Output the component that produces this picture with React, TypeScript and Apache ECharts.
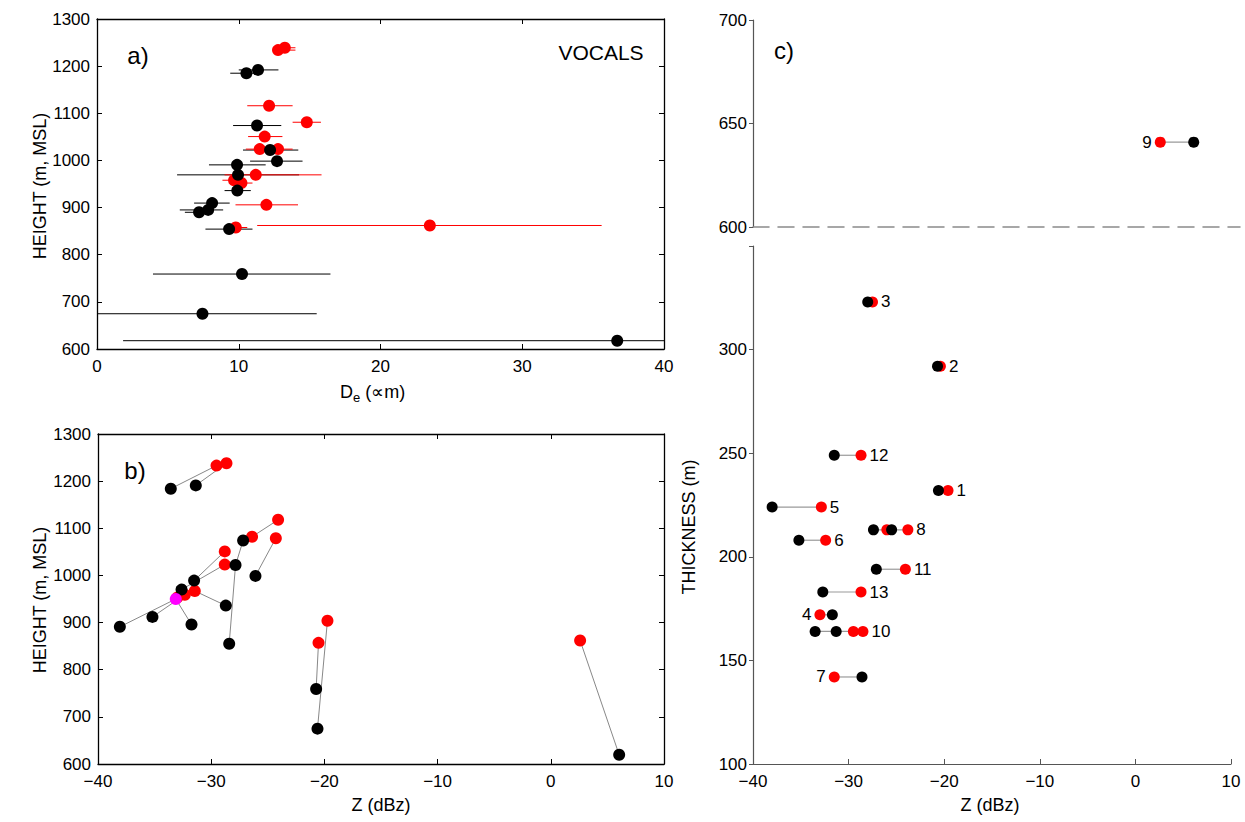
import React, { useEffect, useRef } from "react";
import * as echarts from "echarts";

// ---------- Panel a: D_e vs height ----------  [height, De, lo, hi]
const aBlack: number[][] = [
  [1185, 10.54, 9.4, 11.3],
  [1192, 11.36, 10.0, 12.8],
  [1074, 11.29, 9.6, 13.0],
  [1022, 12.21, 10.3, 14.2],
  [998.5, 12.7, 10.8, 14.5],
  [990.6, 9.88, 7.9, 11.9],
  [969.4, 9.95, 5.65, 14.26],
  [936, 9.9, 9.0, 10.85],
  [909.5, 8.12, 6.85, 9.36],
  [895, 7.84, 5.84, 8.9],
  [890, 7.2, 6.2, 8.2],
  [854.3, 9.32, 7.65, 10.97],
  [759, 10.23, 3.95, 16.47],
  [674.8, 7.44, 0, 15.5],
  [617.6, 36.7, 1.84, 40],
];
const aRed: number[][] = [
  [1234, 12.77, 12.4, 14.0],
  [1239, 13.25, 12.6, 14.0],
  [1116, 12.14, 10.6, 13.8],
  [1081, 14.8, 13.8, 15.8],
  [1050.6, 11.83, 10.66, 13.08],
  [1024, 11.48, 10.5, 12.5],
  [1024, 12.77, 11.8, 13.8],
  [969.4, 11.2, 9.0, 15.84],
  [958, 9.67, 8.85, 10.5],
  [952, 10.19, 9.3, 10.97],
  [905.8, 11.95, 9.77, 14.18],
  [857.7, 9.79, 9.4, 10.6],
  [862, 23.48, 11.3, 35.6],
];

// ---------- Panel b: Z vs height ----------  [Z, height]
const bBlack: number[][] = [
  [-33.57, 1184],
  [-31.36, 1191],
  [-27.18, 1074],
  [-27.85, 1022],
  [-26.09, 999],
  [-31.51, 989],
  [-32.62, 970],
  [-28.71, 936],
  [-35.19, 912],
  [-38.07, 891],
  [-31.74, 896],
  [-28.41, 855],
  [-20.73, 759],
  [-20.61, 675],
  [6.04, 619.5],
];
const bRed: number[][] = [
  [-29.53, 1233],
  [-28.65, 1238],
  [-24.09, 1118],
  [-26.39, 1082],
  [-24.29, 1079],
  [-28.8, 1051],
  [-28.8, 1023],
  [-31.45, 967],
  [-32.33, 959],
  [-33.0, 953],
  [-19.73, 904],
  [-20.52, 857],
  [2.59, 862],
];
const bMagenta: number[][] = [[-33.13, 950]];
const bLinks: string[][] = [
  ["b0", "r0"], ["b1", "r1"], ["r2", "r3"], ["b2", "b3"], ["b3", "b11"],
  ["r4", "b4"], ["r5", "b5"], ["r6", "b6"], ["r7", "b7"], ["b9", "m0"],
  ["b8", "r8"], ["b10", "m0"], ["b12", "r11"], ["b13", "r10"], ["b14", "r12"],
];

// ---------- Panel c: Z vs thickness per cloud ----------
const cIds = [1, 2, 3, 4, 5, 6, 7, 8, 9, 10, 11, 12, 13];
const cThick = [232, 292, 323, 172, 224, 208, 142, 213, 641, 164, 194, 249, 183];
const cBlackZ: number[][] = [
  [-20.6], [-20.7], [-28.0], [-31.7], [-38.0], [-35.2], [-28.6],
  [-27.4, -25.5], [6.1], [-33.5, -31.3], [-27.1], [-31.5], [-32.7],
];
const cRedZ: number[][] = [
  [-19.6], [-20.4], [-27.5], [-33.0], [-32.85], [-32.4], [-31.5],
  [-26.0, -23.8], [2.6], [-29.5, -28.5], [-24.06], [-28.7], [-28.7],
];

// tick ranges
const aX = { min: 0, max: 40, interval: 10 };
const heightY = { min: 600, max: 1300, interval: 100 };
const zX = { min: -40, max: 10, interval: 10 };
const cUpperY = { min: 600, max: 700, interval: 50 };
const cLowerY = { min: 100, max: 350, interval: 50 };

const FONT = "Liberation Sans, Arial, Helvetica, sans-serif";
const RED = "#ff0000";
const BLACK = "#000000";

const numFmt = (v: number) => (v < 0 ? "\u2212" + Math.abs(v) : String(v));

function segRender(color: string, width: number) {
  return (params: any, api: any) => {
    const p1 = api.coord([api.value(0), api.value(1)]);
    const p2 = api.coord([api.value(2), api.value(3)]);
    return {
      type: "line",
      shape: { x1: p1[0], y1: p1[1], x2: p2[0], y2: p2[1] },
      style: { stroke: color, lineWidth: width },
    };
  };
}

export default function App() {
  const ref = useRef<HTMLDivElement>(null);
  useEffect(() => {
    document.body.style.margin = "0";
    if (!ref.current) return;
    const chart = echarts.init(ref.current, null, { renderer: "svg" });

    const boxAxisLine = { show: true, onZero: false, lineStyle: { color: BLACK, width: 1.3 } };
    const tickIn = { show: true, inside: true, length: 5, lineStyle: { color: BLACK, width: 1 } };
    const lbl = { color: BLACK, fontSize: 17, fontFamily: FONT, formatter: numFmt };

    const framedAxes = (grid: number, x: any, y: any) => {
      const xs = [
        { gridIndex: grid, type: "value", position: "bottom", ...x, axisLine: boxAxisLine, axisTick: tickIn, axisLabel: { ...lbl, margin: 9 }, splitLine: { show: false } },
        { gridIndex: grid, type: "value", position: "top", ...x, axisLine: boxAxisLine, axisTick: tickIn, axisLabel: { show: false }, splitLine: { show: false } },
      ];
      const ys = [
        { gridIndex: grid, type: "value", position: "left", ...y, axisLine: boxAxisLine, axisTick: tickIn, axisLabel: { ...lbl, margin: 7 }, splitLine: { show: false } },
        { gridIndex: grid, type: "value", position: "right", ...y, axisLine: boxAxisLine, axisTick: tickIn, axisLabel: { show: false }, splitLine: { show: false } },
      ];
      return { xs, ys };
    };

    const A = framedAxes(0, aX, heightY);
    const B = framedAxes(1, zX, heightY);

    const grayAxis = { show: true, onZero: false, lineStyle: { color: "#555", width: 1.2 } };
    const cUpperXMax = zX.max + 9 / 9.56;
    const xAxes = [
      ...A.xs,
      ...B.xs,
      { gridIndex: 2, type: "value", min: zX.min, max: cUpperXMax, position: "bottom",
        axisLine: { show: true, onZero: false, lineStyle: { color: "#8a8a8a", width: 1.5, type: [16, 9] } },
        axisTick: { show: false }, axisLabel: { show: false }, splitLine: { show: false } },
      { gridIndex: 3, type: "value", ...zX, position: "bottom", axisLine: grayAxis,
        axisTick: { show: true, inside: true, length: 5, lineStyle: { color: "#555" } },
        axisLabel: { ...lbl, margin: 9 }, splitLine: { show: false } },
    ];
    const yAxes = [
      ...A.ys,
      ...B.ys,
      { gridIndex: 2, type: "value", ...cUpperY, position: "left", axisLine: grayAxis,
        axisTick: { show: true, inside: false, length: 4, lineStyle: { color: "#555" } },
        axisLabel: { ...lbl, margin: 6 }, splitLine: { show: false } },
      { gridIndex: 3, type: "value", ...cLowerY, position: "left", axisLine: grayAxis,
        axisTick: { show: true, inside: false, length: 4, lineStyle: { color: "#555" } },
        axisLabel: { ...lbl, margin: 6, formatter: (v: number) => (v === cLowerY.max ? "" : String(v)) },
        splitLine: { show: false } },
    ];

    const barData = (arr: number[][]) => arr.map((r) => [r[2], r[0], r[3], r[0]]);
    const ptA = (arr: number[][]) => arr.map((r) => [r[1], r[0]]);

    const lookup = (k: string) => {
      const i = parseInt(k.slice(1), 10);
      if (k[0] === "b") return bBlack[i];
      if (k[0] === "r") return bRed[i];
      return bMagenta[i];
    };
    const linkData = bLinks.map(([f, t]) => {
      const p = lookup(f), q = lookup(t);
      return [p[0], p[1], q[0], q[1]];
    });

    const upper = (i: number) => cThick[i] >= cUpperY.min;
    const idx = (up: boolean) => cIds.map((_, i) => i).filter((i) => upper(i) === up);
    const cSpan = (up: boolean) =>
      idx(up).map((i) => {
        const all = [...cBlackZ[i], ...cRedZ[i]];
        return [Math.min(...all), cThick[i], Math.max(...all), cThick[i]];
      });
    const cBlackPts = (up: boolean) => idx(up).flatMap((i) => cBlackZ[i].map((z) => [z, cThick[i]]));
    const cRedPts = (up: boolean) =>
      idx(up).flatMap((i) => {
        const reds = cRedZ[i];
        const blacks = cBlackZ[i];
        const rightSide = Math.max(...reds) >= Math.max(...blacks);
        const ext = rightSide ? Math.max(...reds) : Math.min(...reds);
        return reds.map((z) =>
          z === ext
            ? {
                value: [z, cThick[i]],
                label: {
                  show: true, formatter: String(cIds[i]), position: rightSide ? "right" : "left",
                  distance: 3, color: BLACK, fontSize: 17, fontFamily: FONT,
                },
              }
            : { value: [z, cThick[i]] }
        );
      });

    const sc = (xi: number, yi: number, data: any[], color: string, size: number, z = 3) => ({
      type: "scatter", xAxisIndex: xi, yAxisIndex: yi, data, symbol: "circle",
      symbolSize: size, itemStyle: { color, opacity: 1 }, z, silent: true,
    });
    const seg = (xi: number, yi: number, data: any[], color: string, w: number) => ({
      type: "custom", xAxisIndex: xi, yAxisIndex: yi, data, renderItem: segRender(color, w),
      encode: { x: [0, 2], y: [1, 3] }, clip: true, z: 2, silent: true,
    });

    const series: any[] = [
      seg(0, 0, barData(aBlack), BLACK, 1),
      seg(0, 0, barData(aRed), RED, 1),
      sc(0, 0, ptA(aRed), RED, 12),
      sc(0, 0, ptA(aBlack), BLACK, 12, 4),
      seg(2, 2, linkData, "#888888", 1),
      sc(2, 2, bRed, RED, 12),
      sc(2, 2, bBlack, BLACK, 12, 4),
      sc(2, 2, bMagenta, "#ff00ff", 12, 5),
      seg(4, 4, cSpan(true), "#9a9a9a", 1.2),
      sc(4, 4, cRedPts(true), RED, 11),
      sc(4, 4, cBlackPts(true), BLACK, 11, 4),
      seg(5, 5, cSpan(false), "#9a9a9a", 1.2),
      sc(5, 5, cRedPts(false), RED, 11),
      sc(5, 5, cBlackPts(false), BLACK, 11, 4),
    ];

    const txt = (x: number, y: number, text: string, size: number, rot = 0, extra: any = {}) => ({
      type: "text", x, y, rotation: rot, silent: true,
      style: { text, fill: BLACK, fontSize: size, fontFamily: FONT, align: "center", verticalAlign: "middle", ...extra },
    });

    chart.setOption({
      animation: false,
      backgroundColor: "#ffffff",
      grid: [
        { left: 97, top: 19, width: 567, height: 330 },
        { left: 98, top: 434, width: 566, height: 330 },
        { left: 753, top: 20, width: 487, height: 207 },
        { left: 753, top: 246, width: 478, height: 518 },
      ],
      xAxis: xAxes,
      yAxis: yAxes,
      series,
      graphic: [
        txt(138, 55, "a)", 24),
        txt(601, 52, "VOCALS", 21),
        txt(135, 470, "b)", 24),
        txt(784, 50, "c)", 24),
        txt(40, 186, "HEIGHT (m, MSL)", 18, Math.PI / 2),
        txt(40, 600, "HEIGHT (m, MSL)", 18, Math.PI / 2),
        txt(689, 527, "THICKNESS (m)", 18, Math.PI / 2),
        txt(381, 805, "Z (dBz)", 18),
        txt(990, 805, "Z (dBz)", 18),
        {
          type: "text", x: 340, y: 392, silent: true,
          style: {
            text: "{a|D}{b|e}{a| (∝m)}", fill: BLACK, fontFamily: FONT, align: "left", verticalAlign: "middle",
            rich: {
              a: { fontSize: 18, fontFamily: FONT, fill: BLACK },
              b: { fontSize: 13, fontFamily: FONT, fill: BLACK, padding: [10, 0, 0, 0] },
            },
          },
        },
      ],
    });
    return () => chart.dispose();
  }, []);
  return <div ref={ref} style={{ width: 1245, height: 822 }} />;
}
